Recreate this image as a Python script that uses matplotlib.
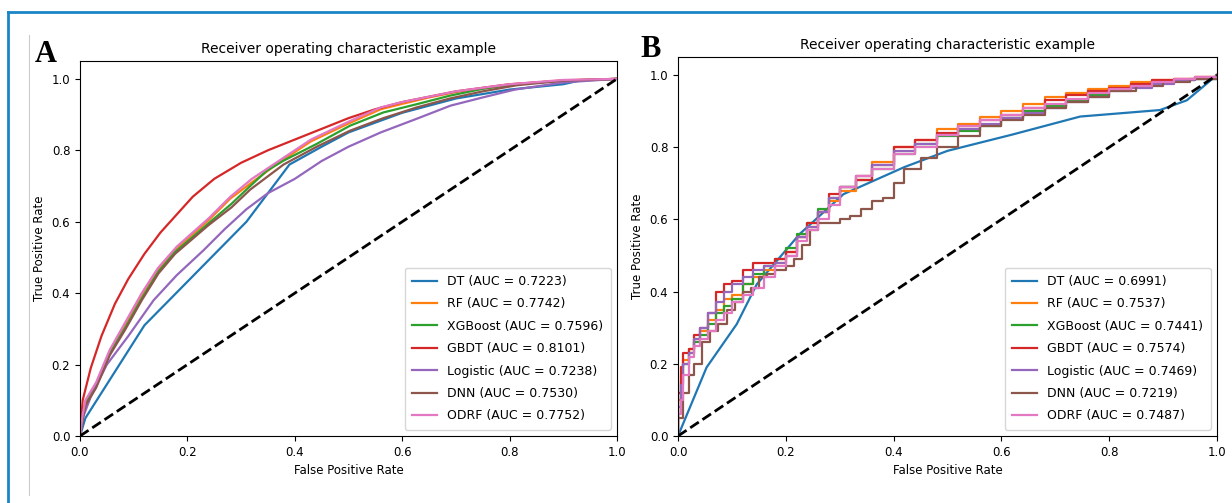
import numpy as np
import matplotlib
matplotlib.use('Agg')
import matplotlib.pyplot as plt
from matplotlib.lines import Line2D

# ---- Panel A: ROC points (FPR, TPR) ----
a_dt_x = [0, 0.01, 0.12, 0.31, 0.39, 0.45, 0.5, 0.6, 0.7, 0.8, 0.9, 0.93, 1.0]
a_dt_y = [0, 0.05, 0.31, 0.60, 0.76, 0.81, 0.85, 0.905, 0.945, 0.97, 0.985, 0.995, 1.0]

a_rf_x = [0, 0.005, 0.01, 0.03, 0.055, 0.085, 0.115, 0.145, 0.18, 0.21, 0.24, 0.28, 0.32, 0.37, 0.43, 0.5, 0.56, 0.6, 0.65, 0.7, 0.8, 0.9, 1.0]
a_rf_y = [0, 0.055, 0.095, 0.145, 0.235, 0.315, 0.395, 0.465, 0.525, 0.565, 0.605, 0.665, 0.71, 0.765, 0.825, 0.875, 0.915, 0.93, 0.948, 0.963, 0.984, 0.996, 1.0]

a_xgb_x = [0, 0.005, 0.01, 0.03, 0.055, 0.085, 0.115, 0.146, 0.177, 0.208, 0.239, 0.282, 0.317, 0.348, 0.379, 0.441, 0.503, 0.565, 0.627, 0.689, 0.75, 0.813, 0.9, 1.0]
a_xgb_y = [0, 0.05, 0.09, 0.14, 0.23, 0.305, 0.385, 0.46, 0.515, 0.555, 0.595, 0.65, 0.70, 0.743, 0.771, 0.818, 0.869, 0.906, 0.929, 0.953, 0.972, 0.985, 0.995, 1.0]

a_gbdt_x = [0, 0.005, 0.02, 0.04, 0.065, 0.09, 0.12, 0.15, 0.18, 0.21, 0.25, 0.3, 0.35, 0.4, 0.45, 0.5, 0.55, 0.6, 0.65, 0.7, 0.8, 0.9, 1.0]
a_gbdt_y = [0, 0.10, 0.19, 0.28, 0.37, 0.44, 0.51, 0.57, 0.62, 0.67, 0.72, 0.765, 0.80, 0.83, 0.86, 0.89, 0.915, 0.935, 0.95, 0.965, 0.985, 0.995, 1.0]

a_log_x = [0, 0.005, 0.02, 0.05, 0.09, 0.137, 0.18, 0.23, 0.27, 0.31, 0.35, 0.4, 0.45, 0.5, 0.56, 0.63, 0.69, 0.75, 0.81, 0.9, 1.0]
a_log_y = [0, 0.05, 0.11, 0.20, 0.28, 0.38, 0.45, 0.52, 0.58, 0.635, 0.68, 0.72, 0.77, 0.81, 0.85, 0.89, 0.925, 0.948, 0.97, 0.99, 1.0]

a_dnn_x = [0, 0.005, 0.01, 0.03, 0.055, 0.085, 0.115, 0.146, 0.177, 0.208, 0.239, 0.282, 0.317, 0.379, 0.441, 0.503, 0.565, 0.627, 0.689, 0.75, 0.813, 0.9, 1.0]
a_dnn_y = [0, 0.045, 0.085, 0.135, 0.225, 0.30, 0.38, 0.455, 0.51, 0.55, 0.59, 0.64, 0.69, 0.76, 0.81, 0.855, 0.89, 0.92, 0.945, 0.965, 0.982, 0.995, 1.0]

a_odrf_x = [0, 0.005, 0.01, 0.03, 0.055, 0.085, 0.115, 0.145, 0.18, 0.21, 0.24, 0.28, 0.32, 0.37, 0.43, 0.5, 0.56, 0.6, 0.65, 0.7, 0.8, 0.9, 1.0]
a_odrf_y = [0, 0.06, 0.10, 0.15, 0.24, 0.32, 0.40, 0.47, 0.53, 0.57, 0.61, 0.67, 0.72, 0.77, 0.83, 0.88, 0.92, 0.935, 0.95, 0.965, 0.985, 0.997, 1.0]

# ---- Panel B ----
b_dt_x = [0, 0.053, 0.109, 0.146, 0.226, 0.307, 0.42, 0.5, 0.62, 0.746, 0.894, 0.944, 1.0]
b_dt_y = [0, 0.19, 0.31, 0.42, 0.56, 0.67, 0.745, 0.79, 0.835, 0.885, 0.903, 0.93, 1.0]

b_x = [0, 0, 0.005, 0.01, 0.02, 0.03, 0.04, 0.055, 0.07, 0.085, 0.1, 0.12, 0.14, 0.16, 0.18, 0.2, 0.22, 0.24, 0.26, 0.28,
       0.3, 0.33, 0.36, 0.4, 0.44, 0.48, 0.52, 0.56, 0.6, 0.64, 0.68, 0.72, 0.76, 0.8, 0.84, 0.88, 0.92, 0.96, 1.0]
b_rf_y = [0, 0.10, 0.17, 0.21, 0.24, 0.27, 0.29, 0.32, 0.35, 0.38, 0.39, 0.42, 0.44, 0.46, 0.48, 0.51, 0.55, 0.58, 0.62, 0.65,
          0.68, 0.72, 0.76, 0.80, 0.82, 0.85, 0.865, 0.885, 0.90, 0.92, 0.94, 0.95, 0.96, 0.97, 0.98, 0.985, 0.99, 0.995, 1.0]
b_xgb_y = [0, 0.12, 0.15, 0.20, 0.23, 0.26, 0.28, 0.31, 0.34, 0.36, 0.38, 0.42, 0.45, 0.47, 0.49, 0.52, 0.56, 0.59, 0.63, 0.66,
           0.69, 0.71, 0.74, 0.78, 0.81, 0.83, 0.845, 0.86, 0.88, 0.90, 0.915, 0.93, 0.945, 0.96, 0.97, 0.98, 0.985, 0.99, 1.0]
b_gbdt_y = [0, 0.12, 0.19, 0.23, 0.24, 0.28, 0.30, 0.34, 0.40, 0.42, 0.43, 0.46, 0.48, 0.48, 0.49, 0.51, 0.55, 0.59, 0.62, 0.67,
            0.69, 0.71, 0.75, 0.80, 0.82, 0.84, 0.86, 0.875, 0.89, 0.91, 0.93, 0.945, 0.955, 0.965, 0.975, 0.985, 0.99, 0.995, 1.0]
b_log_y = [0, 0.08, 0.14, 0.20, 0.23, 0.27, 0.30, 0.34, 0.37, 0.40, 0.42, 0.44, 0.46, 0.47, 0.48, 0.50, 0.55, 0.58, 0.62, 0.66,
           0.69, 0.72, 0.75, 0.79, 0.81, 0.835, 0.85, 0.865, 0.88, 0.895, 0.91, 0.925, 0.94, 0.955, 0.965, 0.975, 0.985, 0.99, 1.0]
b_odrf_y = [0, 0.06, 0.10, 0.17, 0.22, 0.25, 0.27, 0.29, 0.32, 0.34, 0.37, 0.39, 0.41, 0.44, 0.47, 0.50, 0.54, 0.57, 0.60, 0.64,
            0.69, 0.72, 0.74, 0.78, 0.80, 0.835, 0.86, 0.875, 0.89, 0.91, 0.92, 0.935, 0.95, 0.96, 0.97, 0.98, 0.99, 0.995, 1.0]

b_dnn_x = [0, 0, 0.01, 0.02, 0.03, 0.045, 0.06, 0.075, 0.09, 0.105, 0.12, 0.135, 0.15, 0.165, 0.18, 0.2, 0.215, 0.23, 0.245, 0.26, 0.28,
           0.3, 0.32, 0.34, 0.36, 0.38, 0.4, 0.42, 0.45, 0.48, 0.52, 0.56, 0.6, 0.64, 0.68, 0.72, 0.76, 0.8, 0.85, 0.9, 0.95, 1.0]
b_dnn_y = [0, 0.05, 0.12, 0.17, 0.20, 0.26, 0.29, 0.31, 0.35, 0.37, 0.40, 0.41, 0.44, 0.45, 0.46, 0.47, 0.49, 0.53, 0.57, 0.59, 0.59,
           0.60, 0.61, 0.63, 0.65, 0.66, 0.70, 0.74, 0.77, 0.80, 0.83, 0.86, 0.875, 0.89, 0.91, 0.925, 0.94, 0.955, 0.97, 0.98, 0.99, 1.0]

models = ['DT', 'RF', 'XGBoost', 'GBDT', 'Logistic', 'DNN', 'ODRF']
auc_a = [0.7223, 0.7742, 0.7596, 0.8101, 0.7238, 0.7530, 0.7752]
auc_b = [0.6991, 0.7537, 0.7441, 0.7574, 0.7469, 0.7219, 0.7487]

curves_a = [(a_dt_x, a_dt_y), (a_rf_x, a_rf_y), (a_xgb_x, a_xgb_y), (a_gbdt_x, a_gbdt_y),
            (a_log_x, a_log_y), (a_dnn_x, a_dnn_y), (a_odrf_x, a_odrf_y)]
curves_b = [(b_dt_x, b_dt_y), (b_x, b_rf_y), (b_x, b_xgb_y), (b_x, b_gbdt_y),
            (b_x, b_log_y), (b_dnn_x, b_dnn_y), (b_x, b_odrf_y)]

fig = plt.figure(figsize=(12.32, 5.03), dpi=100)
ax_a = fig.add_axes([80 / 1232, 67 / 503, 537 / 1232, 375 / 503])
ax_b = fig.add_axes([678 / 1232, 67 / 503, 539 / 1232, 379 / 503])


def draw_panel(ax, curves, aucs, stepped):
    for i, (name, (xs, ys), auc) in enumerate(zip(models, curves, aucs)):
        ds = 'steps-post' if (stepped and i != 0) else 'default'
        ax.plot(xs, ys, color='C%d' % i, lw=1.6, drawstyle=ds,
                label='%s (AUC = %.4f)' % (name, auc))
    ax.plot([0, 1], [0, 1], 'k--', lw=2)
    ax.set_xlim(0, 1)
    ax.set_ylim(0, 1.05)
    ax.set_title('Receiver operating characteristic example', fontsize=10, pad=6)
    ax.set_xlabel('False Positive Rate', fontsize=8.5)
    ax.set_ylabel('True Positive Rate', fontsize=8.5)
    ax.tick_params(labelsize=8.5)
    ax.legend(loc='lower right', fontsize=9, labelspacing=0.75, borderpad=0.6)


draw_panel(ax_a, curves_a, auc_a, False)
draw_panel(ax_b, curves_b, auc_b, True)

fig.text(35 / 1232, 1 - 62 / 503, 'A', fontsize=22, fontweight='bold', family='Liberation Serif')
fig.text(640 / 1232, 1 - 57 / 503, 'B', fontsize=22, fontweight='bold', family='Liberation Serif')

# blue frame and faint gray rule of the source page
frame = '#1a86c6'
fig.add_artist(Line2D([8 / 1232, 1.0], [1 - 12 / 503] * 2, color=frame, lw=2))
fig.add_artist(Line2D([8 / 1232] * 2, [0, 1 - 12 / 503], color=frame, lw=2))
fig.add_artist(Line2D([29 / 1232] * 2, [8 / 503, 1 - 35 / 503], color='#cccccc', lw=0.8))

fig.savefig('out.png', dpi=100)
